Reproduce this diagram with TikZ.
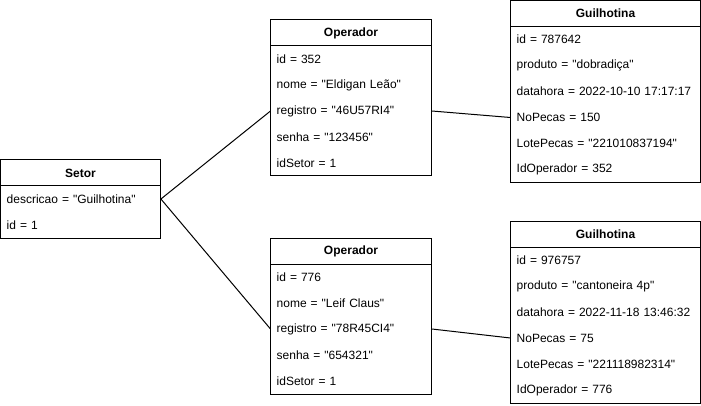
\documentclass[tikz,border=0pt]{standalone}
\usepackage{fontspec}
\setmainfont{Liberation Sans}[Ligatures=TeXOff]
\begin{document}
\begin{tikzpicture}[x=1pt,y=-1pt,
  every node/.style={font=\fontsize{12}{14}\selectfont},
  hdr/.style={draw, line width=1pt, minimum height=26pt, inner sep=0pt, font=\fontsize{12}{14}\selectfont\bfseries},
  body/.style={draw, line width=1pt, inner sep=0pt},
  rowtext/.style={anchor=west, inner xsep=6pt, inner ysep=0pt, minimum height=26pt, align=left},
  srow/.style={rowtext, minimum width=160pt, text width=148pt},
  orow/.style={rowtext, minimum width=161pt, text width=149pt},
  guirow/.style={rowtext, minimum width=190pt, text width=178pt},
  conn/.style={draw, line width=1pt}]
\useasboundingbox (0,0) rectangle (701,406);
% Setor
\node[hdr, minimum width=160pt] (sh) at (80.5,173) {Setor};
\node[body, minimum width=160pt, minimum height=52pt] (sb) at (80.5,212) {};
\node[srow] (s1) at (0.5,199) {descricao = "Guilhotina"};
\node[srow] (s2) at (0.5,225) {id = 1};
% Operador 1
\node[hdr, minimum width=161pt] (o1h) at (351,33) {Operador};
\node[body, minimum width=161pt, minimum height=130pt] (o1b) at (351,111) {};
\node[orow] (o1r1) at (270.5,59) {id = 352};
\node[orow] (o1r2) at (270.5,85) {nome = "Eldigan Leão"};
\node[orow] (o1r3) at (270.5,111) {registro = "46U57RI4"};
\node[orow] (o1r4) at (270.5,137) {senha = "123456"};
\node[orow] (o1r5) at (270.5,163) {idSetor = 1};
% Operador 2
\node[hdr, minimum width=161pt] (o2h) at (351,251) {Operador};
\node[body, minimum width=161pt, minimum height=130pt] (o2b) at (351,329) {};
\node[orow] (o2r1) at (270.5,277) {id = 776};
\node[orow] (o2r2) at (270.5,303) {nome = "Leif Claus"};
\node[orow] (o2r3) at (270.5,329) {registro = "78R45CI4"};
\node[orow] (o2r4) at (270.5,355) {senha = "654321"};
\node[orow] (o2r5) at (270.5,381) {idSetor = 1};
% Guilhotina 1
\node[hdr, minimum width=190pt] (g1h) at (605.5,13.5) {Guilhotina};
\node[body, minimum width=190pt, minimum height=156pt] (g1b) at (605.5,104.5) {};
\node[guirow] (g1r1) at (510.5,39.5) {id = 787642};
\node[guirow] (g1r2) at (510.5,65.5) {produto = "dobradiça"};
\node[guirow] (g1r3) at (510.5,91.5) {datahora = 2022-10-10 17:17:17};
\node[guirow] (g1r4) at (510.5,117.5) {NoPecas = 150};
\node[guirow] (g1r5) at (510.5,143.5) {LotePecas = "221010837194"};
\node[guirow] (g1r6) at (510.5,169.5) {IdOperador = 352};
% Guilhotina 2
\node[hdr, minimum width=190pt] (g2h) at (605.5,234) {Guilhotina};
\node[body, minimum width=190pt, minimum height=156pt] (g2b) at (605.5,325) {};
\node[guirow] (g2r1) at (510.5,260) {id = 976757};
\node[guirow] (g2r2) at (510.5,286) {produto = "cantoneira 4p"};
\node[guirow] (g2r3) at (510.5,312) {datahora = 2022-11-18 13:46:32};
\node[guirow] (g2r4) at (510.5,338) {NoPecas = 75};
\node[guirow] (g2r5) at (510.5,364) {LotePecas = "221118982314"};
\node[guirow] (g2r6) at (510.5,390) {IdOperador = 776};
% connectors
\draw[conn] (s1.east) -- (o1r3.west);
\draw[conn] (s1.east) -- (o2r3.west);
\draw[conn] (o1r3.east) -- (g1r4.west);
\draw[conn] (o2r3.east) -- (g2r4.west);
\end{tikzpicture}
\end{document}
